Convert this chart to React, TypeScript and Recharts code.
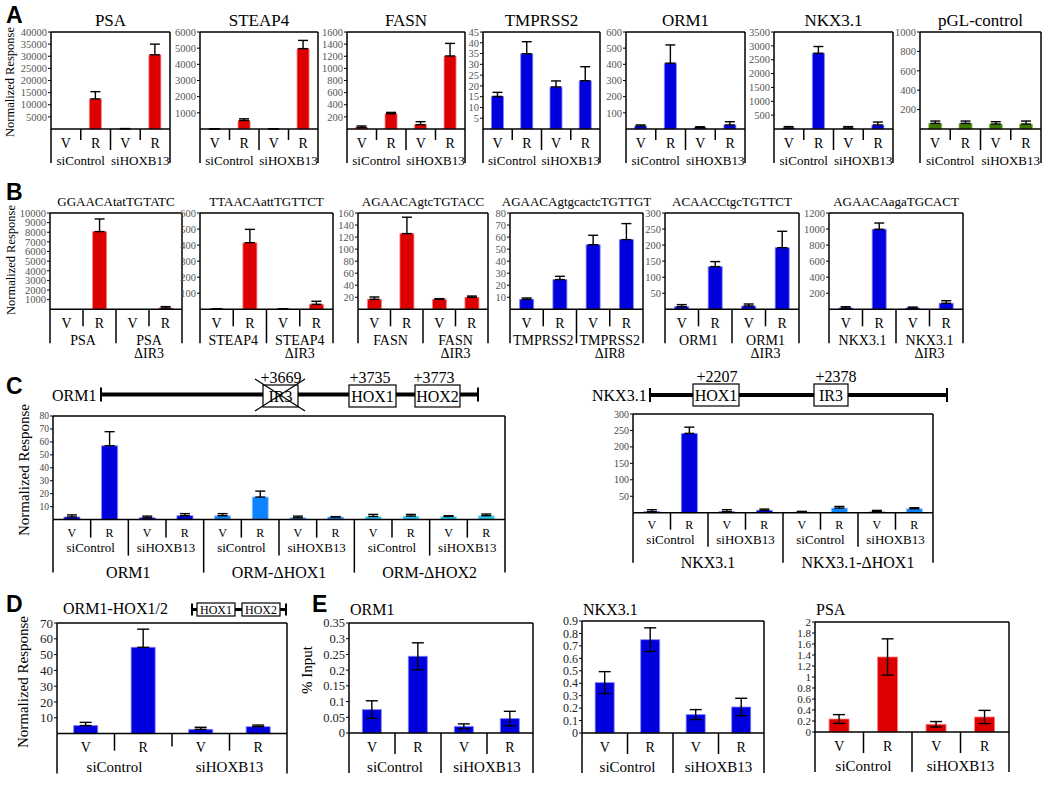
import React from 'react';
import { BarChart, Bar, XAxis, YAxis, ErrorBar, Cell, ReferenceLine } from 'recharts';

const SERIF = '"Liberation Serif", "Times New Roman", Times, serif';
const SANS = '"Liberation Sans", Arial, Helvetica, sans-serif';

const RED = '#dc0000';
const BLUE = '#0000dc';
const GREEN = '#3c7800';
const SKY = '#0c84ff';
const CYAN = '#28c4f0';
const EDGE: Record<string, string> = {
  [RED]: '#ff8080',
  [BLUE]: '#8080ff',
  [GREEN]: '#8cc060',
  [SKY]: '#90c8ff',
  [CYAN]: '#a0e4ff',
};

// shared category labels
const vr = ['V', 'R'];
const siGroups = ['siControl', 'siHOXB13'];

// ---- Panel A : luciferase, siControl vs siHOXB13
const aPsa = [0, 12400, 150, 30600];
const aPsaErr = [0, 3000, 0, 4400];
const aPsaTicks = [5000, 10000, 15000, 20000, 25000, 30000, 35000, 40000];
const aSteap4 = [10, 530, 10, 4970];
const aSteap4Err = [0, 100, 0, 510];
const aSteap4Ticks = [1000, 2000, 3000, 4000, 5000, 6000];
const aFasn = [26, 252, 71, 1204];
const aFasnErr = [24, 22, 49, 208];
const aFasnTicks = [200, 400, 600, 800, 1000, 1200, 1400, 1600];
const aTmprss2 = [15.1, 34.9, 19.5, 22.4];
const aTmprss2Err = [1.9, 5.6, 2.8, 6.5];
const aTmprss2Ticks = [5, 10, 15, 20, 25, 30, 35, 40, 45];
const aOrm1 = [18, 407, 8, 25];
const aOrm1Err = [7, 113, 6, 20];
const aOrm1Ticks = [100, 200, 300, 400, 500, 600];
const aNkx = [36, 2733, 36, 144];
const aNkxErr = [50, 243, 50, 108];
const aNkxTicks = [500, 1000, 1500, 2000, 2500, 3000, 3500];
const aPgl = [58, 58, 51, 51];
const aPglErr = [24, 24, 24, 31];
const aPglTicks = [200, 400, 600, 800, 1000];

// ---- Panel B : IR deletion constructs
const bPsa = [0, 8070, 0, 135];
const bPsaErr = [0, 1310, 0, 145];
const bPsaTicks = [1000, 2000, 3000, 4000, 5000, 6000, 7000, 8000, 9000, 10000];
const bSteap4 = [3, 415, 2, 31];
const bSteap4Err = [0, 83, 0, 19];
const bSteap4Ticks = [100, 200, 300, 400, 500, 600];
const bFasn = [16.6, 125.8, 16.6, 19.9];
const bFasnErr = [3.9, 27.2, 1.1, 2.1];
const bFasnTicks = [20, 40, 60, 80, 100, 120, 140, 160];
const bTmprss2 = [8.3, 24.7, 53.7, 57.9];
const bTmprss2Err = [1.1, 2.7, 7.8, 13.3];
const bTmprss2Ticks = [10, 20, 30, 40, 50, 60, 70, 80];
const bOrm1 = [8.4, 133, 10.3, 192];
const bOrm1Err = [6.2, 15.6, 6.2, 51];
const bOrm1Ticks = [50, 100, 150, 200, 250, 300];
const bNkx = [16, 997, 16, 75];
const bNkxErr = [16, 78, 12, 32];
const bNkxTicks = [200, 400, 600, 800, 1000, 1200];

// ---- Panel C : HOX site deletions
const cOrm = [2, 57, 1.4, 3, 3, 17.4, 1.4, 2, 2.4, 2.7, 2.4, 3];
const cOrmErr = [1.6, 10.9, 1.3, 1.6, 1.6, 4.6, 1.3, 0.3, 1.6, 1.3, 0.6, 1.3];
const cOrmTicks = [10, 20, 30, 40, 50, 60, 70, 80];
const cOrmConstructs = ['ORM1', 'ORM-\u0394HOX1', 'ORM-\u0394HOX2'];
const cNkx = [3, 241, 3, 7, 2, 14, 3, 12];
const cNkxErr = [6, 19, 6, 4, 2, 5, 4, 3];
const cNkxTicks = [50, 100, 150, 200, 250, 300];
const cNkxConstructs = ['NKX3.1', 'NKX3.1-\u0394HOX1'];

// ---- Panel D
const dOrmHox = [5.1, 54.6, 2.7, 4.4];
const dOrmHoxErr = [2, 11.5, 1.3, 1];
const dTicks = [10, 20, 30, 40, 50, 60, 70];

// ---- Panel E : ChIP % input
const eOrm = [0.0745, 0.244, 0.021, 0.046];
const eOrmErr = [0.028, 0.043, 0.008, 0.023];
const eOrmTicks = [0, 0.05, 0.1, 0.15, 0.2, 0.25, 0.3, 0.35];
const eNkx = [0.405, 0.75, 0.148, 0.209];
const eNkxErr = [0.088, 0.095, 0.04, 0.07];
const eNkxTicks = [0, 0.1, 0.2, 0.3, 0.4, 0.5, 0.6, 0.7, 0.8, 0.9];
const ePsa = [0.236, 1.364, 0.14, 0.273];
const ePsaErr = [0.08, 0.33, 0.05, 0.12];
const ePsaTicks = [0, 0.2, 0.4, 0.6, 0.8, 1, 1.2, 1.4, 1.6, 1.8, 2];

type Table = {
  r1: number; r2: number; r3?: number; lh?: number;
  inner: number; pair: number; quad?: number; outer: number;
  f1: number; f2: number; f3?: number;
};

type Cfg = {
  x0: number; x1: number; y0: number; y1: number;
  values: number[]; errs: number[]; colors: string[];
  max: number; ticks: number[]; tickFont: number; tickColor: string;
  groups: string[]; big?: string[]; table: Table;
  twoSided?: boolean; cap?: number;
};

const tableA: Table = { r1: 14, r2: 31, inner: 11, pair: 21, outer: 34, f1: 14, f2: 13 };
const tableB: Table = { r1: 14, r2: 31, lh: 13, inner: 17, pair: 34, outer: 34, f1: 14, f2: 14 };
const tableCL: Table = { r1: 12.8, r2: 27.8, r3: 52.5, inner: 18, pair: 36, quad: 53, outer: 53, f1: 12, f2: 13, f3: 16 };
const tableCR: Table = { r1: 12.3, r2: 26.3, r3: 50, inner: 17, pair: 34, quad: 50, outer: 50, f1: 12, f2: 13, f3: 16 };
const tableD: Table = { r1: 13.5, r2: 33.5, inner: 17, pair: 13, outer: 40, f1: 14, f2: 15 };
const tableE: Table = { r1: 14, r2: 33.5, inner: 21, pair: 40, outer: 40, f1: 14, f2: 15 };

const YW = 46;
const MT = 9;
const MR = 3;

const rep = (c: string, n: number) => Array.from({ length: n }, () => c);

function Chart({ cfg }: { cfg: Cfg }) {
  const t = cfg.table;
  const plotW = cfg.x1 - cfg.x0;
  const plotH = cfg.y1 - cfg.y0;
  const n = cfg.values.length;
  const bw = plotW / n;
  const axisY = MT + plotH;
  const lastText = t.r3 ?? t.r2 + (t.lh ? t.lh : 0);
  const tableH = Math.max(t.outer, lastText) + 12;

  const data = cfg.values.map((v, i) => ({
    id: String(i),
    v,
    e: cfg.twoSided ? cfg.errs[i] : [0, cfg.errs[i]],
  }));

  const renderTick = (props: any) => {
    const i = Number(props.payload.value);
    const cx = props.x;
    const left = cx - bw / 2;
    const right = cx + bw / 2;
    const len = i === 0 ? t.outer : t.quad && i % 4 === 0 ? t.quad : i % 2 === 0 ? t.pair : t.inner;
    const parts: React.ReactNode[] = [];
    parts.push(<line key="l" x1={left} x2={left} y1={axisY} y2={axisY + len} stroke="#000" strokeWidth={1.5} />);
    if (i === n - 1) {
      parts.push(<line key="r" x1={right} x2={right} y1={MT} y2={axisY + t.outer} stroke="#000" strokeWidth={1.5} />);
    }
    parts.push(
      <text key="t1" x={cx} y={axisY + t.r1} dy="0.35em" textAnchor="middle" fontSize={t.f1} fontFamily={SERIF} fill="#000">
        {vr[i % 2]}
      </text>
    );
    if (i % 2 === 0) {
      const lines = cfg.groups[i / 2].split('\n');
      lines.forEach((s, k) => {
        parts.push(
          <text key={'g' + k} x={right} y={axisY + t.r2 + k * (t.lh || 0)} dy="0.35em" textAnchor="middle" fontSize={t.f2} fontFamily={SERIF} fill="#000">
            {s}
          </text>
        );
      });
    }
    if (cfg.big && t.r3 && i % 4 === 0) {
      parts.push(
        <text key="b" x={left + 2 * bw} y={axisY + t.r3} dy="0.35em" textAnchor="middle" fontSize={t.f3} fontFamily={SERIF} fill="#000">
          {cfg.big[i / 4]}
        </text>
      );
    }
    return <g>{parts}</g>;
  };

  return (
    <div style={{ position: 'absolute', left: cfg.x0 - YW, top: cfg.y0 - MT }}>
      <BarChart
        width={YW + plotW + MR}
        height={MT + plotH + tableH}
        data={data}
        margin={{ top: MT, right: MR, bottom: 0, left: 0 }}
        barCategoryGap="29%"
      >
        <XAxis
          dataKey="id"
          height={tableH}
          interval={0}
          tickLine={false}
          axisLine={{ stroke: '#000', strokeWidth: 1.5 }}
          tick={renderTick}
        />
        <YAxis
          width={YW}
          domain={[0, cfg.max]}
          ticks={cfg.ticks}
          interval={0}
          tickSize={3}
          tickMargin={1}
          axisLine={{ stroke: '#000', strokeWidth: 1.5 }}
          tickLine={{ stroke: '#000' }}
          tick={{ fontSize: cfg.tickFont, fill: cfg.tickColor, fontFamily: SERIF }}
        />
        <ReferenceLine y={cfg.max} stroke="#000" strokeWidth={1.5} />
        <Bar dataKey="v" isAnimationActive={false}>
          {data.map((d, i) => (
            <Cell key={d.id} fill={cfg.colors[i]} stroke={EDGE[cfg.colors[i]]} strokeWidth={0.8} />
          ))}
          <ErrorBar dataKey="e" width={cfg.cap ?? 5} stroke="#000" strokeWidth={1.4} />
        </Bar>
      </BarChart>
    </div>
  );
}

const A_Y0 = 32.3;
const A_Y1 = 129.3;
const panelA = [
  { title: 'PSA', x0: 51, x1: 170, values: aPsa, errs: aPsaErr, max: 40000, ticks: aPsaTicks, color: RED },
  { title: 'STEAP4', x0: 200, x1: 318, values: aSteap4, errs: aSteap4Err, max: 6000, ticks: aSteap4Ticks, color: RED },
  { title: 'FASN', x0: 347, x1: 465, values: aFasn, errs: aFasnErr, max: 1600, ticks: aFasnTicks, color: RED },
  { title: 'TMPRSS2', x0: 483, x1: 600, values: aTmprss2, errs: aTmprss2Err, max: 45, ticks: aTmprss2Ticks, color: BLUE },
  { title: 'ORM1', x0: 626, x1: 745, values: aOrm1, errs: aOrm1Err, max: 600, ticks: aOrm1Ticks, color: BLUE },
  { title: 'NKX3.1', x0: 774, x1: 893, values: aNkx, errs: aNkxErr, max: 3500, ticks: aNkxTicks, color: BLUE },
  { title: 'pGL-control', x0: 920, x1: 1041, values: aPgl, errs: aPglErr, max: 1000, ticks: aPglTicks, color: GREEN },
];

const B_Y0 = 212.7;
const B_Y1 = 309;
const panelB = [
  { title: 'GGAACAtatTGTATC', x0: 50, x1: 182, values: bPsa, errs: bPsaErr, max: 10000, ticks: bPsaTicks, color: RED, groups: ['PSA', 'PSA\n\u0394IR3'] },
  { title: 'TTAACAattTGTTCT', x0: 200, x1: 333, values: bSteap4, errs: bSteap4Err, max: 600, ticks: bSteap4Ticks, color: RED, groups: ['STEAP4', 'STEAP4\n\u0394IR3'] },
  { title: 'AGAACAgtcTGTACC', x0: 358, x1: 488, values: bFasn, errs: bFasnErr, max: 160, ticks: bFasnTicks, color: RED, groups: ['FASN', 'FASN\n\u0394IR3'] },
  { title: 'AGAACAgtgcactcTGTTGT', x0: 510, x1: 643, values: bTmprss2, errs: bTmprss2Err, max: 80, ticks: bTmprss2Ticks, color: BLUE, groups: ['TMPRSS2', 'TMPRSS2\n\u0394IR8'] },
  { title: 'ACAACCtgcTGTTCT', x0: 665, x1: 799, values: bOrm1, errs: bOrm1Err, max: 300, ticks: bOrm1Ticks, color: BLUE, groups: ['ORM1', 'ORM1\n\u0394IR3'] },
  { title: 'AGAACAagaTGCACT', x0: 829, x1: 963, values: bNkx, errs: bNkxErr, max: 1200, ticks: bNkxTicks, color: BLUE, groups: ['NKX3.1', 'NKX3.1\n\u0394IR3'] },
];

const cLeft: Cfg = {
  x0: 52.6, x1: 504.6, y0: 416, y1: 519.6,
  values: cOrm, errs: cOrmErr,
  colors: [...rep(BLUE, 4), ...rep(SKY, 4), ...rep(CYAN, 4)],
  max: 80, ticks: cOrmTicks, tickFont: 9.5, tickColor: '#444',
  groups: [...siGroups, ...siGroups, ...siGroups], big: cOrmConstructs, table: tableCL,
};
const cRight: Cfg = {
  x0: 633, x1: 933, y0: 414.3, y1: 513,
  values: cNkx, errs: cNkxErr,
  colors: [...rep(BLUE, 4), ...rep(SKY, 4)],
  max: 300, ticks: cNkxTicks, tickFont: 10, tickColor: '#444',
  groups: [...siGroups, ...siGroups], big: cNkxConstructs, table: tableCR,
};
const dCfg: Cfg = {
  x0: 57, x1: 287, y0: 622.7, y1: 733.3,
  values: dOrmHox, errs: dOrmHoxErr, colors: rep(BLUE, 4),
  max: 70, ticks: dTicks, tickFont: 13, tickColor: '#222',
  groups: siGroups, table: tableD, cap: 6,
};
const panelE = [
  { title: 'ORM1', cfg: { x0: 349, x1: 533, y0: 622.7, y1: 732.7, values: eOrm, errs: eOrmErr, colors: rep(BLUE, 4), max: 0.35, ticks: eOrmTicks, tickFont: 12.5, tickColor: '#222', groups: siGroups, table: tableE, twoSided: true, cap: 6 } as Cfg },
  { title: 'NKX3.1', cfg: { x0: 582, x1: 764, y0: 620.7, y1: 732.7, values: eNkx, errs: eNkxErr, colors: rep(BLUE, 4), max: 0.9, ticks: eNkxTicks, tickFont: 12, tickColor: '#222', groups: siGroups, table: tableE, twoSided: true, cap: 6 } as Cfg },
  { title: 'PSA', cfg: { x0: 815, x1: 1009, y0: 621.7, y1: 731.7, values: ePsa, errs: ePsaErr, colors: rep(RED, 4), max: 2, ticks: ePsaTicks, tickFont: 11, tickColor: '#222', groups: siGroups, table: tableE, twoSided: true, cap: 6 } as Cfg },
];

function GeneBox({ x0, x1, y0, y1, label, fs }: { x0: number; x1: number; y0: number; y1: number; label: string; fs: number }) {
  return (
    <g>
      <rect x={x0} y={y0} width={x1 - x0} height={y1 - y0} fill="#fff" stroke="#000" strokeWidth={1.2} />
      <text x={(x0 + x1) / 2} y={(y0 + y1) / 2} dy="0.36em" textAnchor="middle" fontSize={fs} fontFamily={SERIF}>
        {label}
      </text>
    </g>
  );
}

function Gene({ x0, x1, y, w, cap }: { x0: number; x1: number; y: number; w: number; cap: number }) {
  return (
    <g stroke="#000">
      <line x1={x0} x2={x1} y1={y} y2={y} strokeWidth={w} />
      <line x1={x0} x2={x0} y1={y - cap} y2={y + cap} strokeWidth={2} />
      <line x1={x1} x2={x1} y1={y - cap} y2={y + cap} strokeWidth={2} />
    </g>
  );
}

const yLabel = (x: number, y: number, fs: number, s: string) => (
  <text transform={`translate(${x},${y}) rotate(-90)`} textAnchor="middle" dy="0.35em" fontSize={fs} fontFamily={SERIF}>
    {s}
  </text>
);

const letter = (x: number, y: number, s: string) => (
  <text x={x} y={y} fontSize={23} fontWeight="bold" fontFamily={SANS}>
    {s}
  </text>
);

export default function App() {
  return (
    <div style={{ position: 'absolute', left: 0, top: 0, width: 1050, height: 785, background: '#fff', fontFamily: SERIF }}>
      {panelA.map((p) => (
        <Chart
          key={p.title}
          cfg={{
            x0: p.x0, x1: p.x1, y0: A_Y0, y1: A_Y1, values: p.values, errs: p.errs,
            colors: rep(p.color, 4), max: p.max, ticks: p.ticks, tickFont: 10.5, tickColor: '#555',
            groups: siGroups, table: tableA,
          }}
        />
      ))}
      {panelB.map((p) => (
        <Chart
          key={p.title}
          cfg={{
            x0: p.x0, x1: p.x1, y0: B_Y0, y1: B_Y1, values: p.values, errs: p.errs,
            colors: rep(p.color, 4), max: p.max, ticks: p.ticks, tickFont: 10.5, tickColor: '#555',
            groups: p.groups, table: tableB,
          }}
        />
      ))}
      <Chart cfg={cLeft} />
      <Chart cfg={cRight} />
      <Chart cfg={dCfg} />
      {panelE.map((p) => (
        <Chart key={p.title} cfg={p.cfg} />
      ))}

      <svg width={1050} height={785} style={{ position: 'absolute', left: 0, top: 0, pointerEvents: 'none' }} fontFamily={SERIF}>
        {letter(6, 23, 'A')}
        {letter(6, 200, 'B')}
        {letter(6, 394, 'C')}
        {letter(6, 612, 'D')}
        {letter(312, 612, 'E')}

        {panelA.map((p) => (
          <text key={p.title} x={(p.x0 + p.x1) / 2} y={26} textAnchor="middle" fontSize={17}>
            {p.title}
          </text>
        ))}
        {panelB.map((p) => (
          <text key={p.title} x={(p.x0 + p.x1) / 2} y={206} textAnchor="middle" fontSize={13}>
            {p.title}
          </text>
        ))}

        {yLabel(10, 82, 12.5, 'Normalized Response')}
        {yLabel(11, 260, 12.5, 'Normalized Response')}
        {yLabel(24, 470, 15, 'Normalized Response')}
        {yLabel(23, 682, 15, 'Normalized Response')}
        {yLabel(307, 670, 15, '% Input')}

        {/* C: ORM1 promoter */}
        <text x={52} y={401} fontSize={16}>ORM1</text>
        <Gene x0={101} x1={478} y={394.5} w={4} cap={7} />
        <GeneBox x0={263} x1={298} y0={385} y1={407} label="IR3" fs={16} />
        <line x1={255} y1={379} x2={305} y2={411} stroke="#000" strokeWidth={1.3} />
        <line x1={255} y1={411} x2={305} y2={379} stroke="#000" strokeWidth={1.3} />
        <text x={281} y={383} textAnchor="middle" fontSize={16}>+3669</text>
        <GeneBox x0={349} x1={396} y0={385} y1={407} label="HOX1" fs={16} />
        <text x={370} y={383} textAnchor="middle" fontSize={16}>+3735</text>
        <GeneBox x0={415} x1={460} y0={385} y1={407} label="HOX2" fs={16} />
        <text x={434} y={383} textAnchor="middle" fontSize={16}>+3773</text>

        {/* C: NKX3.1 promoter */}
        <text x={592} y={401} fontSize={16}>NKX3.1</text>
        <Gene x0={650} x1={947} y={395} w={4} cap={7} />
        <GeneBox x0={693} x1={739} y0={384} y1={406} label="HOX1" fs={16} />
        <text x={717} y={382} textAnchor="middle" fontSize={16}>+2207</text>
        <GeneBox x0={814} x1={848} y0={384} y1={406} label="IR3" fs={16} />
        <text x={836} y={382} textAnchor="middle" fontSize={16}>+2378</text>

        {/* D title and mini construct */}
        <text x={63} y={614} fontSize={16}>ORM1-HOX1/2</text>
        <Gene x0={192} x1={286} y={609.5} w={3} cap={6} />
        <GeneBox x0={197} x1={235} y0={603} y1={616} label="HOX1" fs={12} />
        <GeneBox x0={242} x1={280} y0={603} y1={616} label="HOX2" fs={12} />

        {panelE.map((p) => (
          <text key={p.title} x={p.cfg.x0 + 1} y={615} fontSize={16}>
            {p.title}
          </text>
        ))}
      </svg>
    </div>
  );
}
